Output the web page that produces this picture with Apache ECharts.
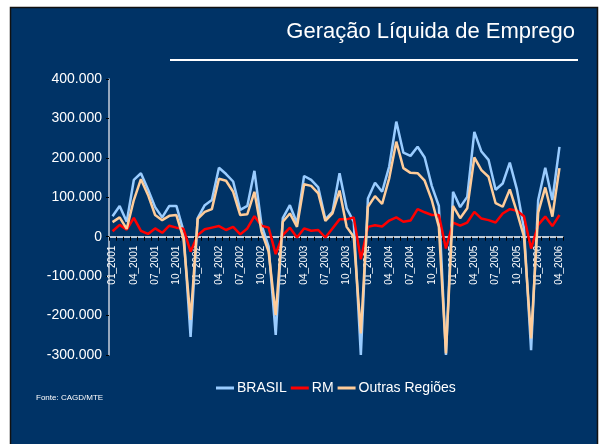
<!DOCTYPE html>
<html>
<head>
<meta charset="utf-8">
<script src="https://cdn.jsdelivr.net/npm/echarts@6/dist/echarts.min.js"></script>
<style>
  html, body { margin: 0; padding: 0; background: #fff; }
  #chart { width: 602px; height: 444px; }
</style>
</head>
<body>
<div id="chart"></div>
<script>
// monthly categories, 01_2001 .. 04_2006
const months = [
  '01_2001','02_2001','03_2001','04_2001','05_2001','06_2001','07_2001','08_2001','09_2001','10_2001','11_2001','12_2001',
  '01_2002','02_2002','03_2002','04_2002','05_2002','06_2002','07_2002','08_2002','09_2002','10_2002','11_2002','12_2002',
  '01_2003','02_2003','03_2003','04_2003','05_2003','06_2003','07_2003','08_2003','09_2003','10_2003','11_2003','12_2003',
  '01_2004','02_2004','03_2004','04_2004','05_2004','06_2004','07_2004','08_2004','09_2004','10_2004','11_2004','12_2004',
  '01_2005','02_2005','03_2005','04_2005','05_2005','06_2005','07_2005','08_2005','09_2005','10_2005','11_2005','12_2005',
  '01_2006','02_2006','03_2006','04_2006'
]

// net job creation, thousands
const brasil = [
  52, 78, 38, 144, 161, 120, 75, 49, 78, 78, 15, -254,
  47, 80, 93, 175, 159, 140, 68, 78, 167, 30, -25, -249,
  47, 80, 34, 154, 144, 125, 44, 63, 161, 72, 38, -300,
  97, 137, 114, 178, 292, 213, 205, 228, 201, 129, 78, -300,
  114, 75, 101, 266, 216, 195, 119, 135, 188, 120, 21, -288,
  93, 175, 93, 228
]
const rm = [
  14, 30, 18, 48, 15, 7, 21, 10, 28, 23, 20, -38,
  4, 19, 23, 27, 17, 25, 6, 21, 52, 28, 23, -44,
  4, 23, -2, 21, 15, 17, -2, 21, 44, 44, 49, -57,
  25, 29, 26, 41, 49, 38, 41, 70, 62, 55, 55, -30,
  36, 28, 36, 63, 46, 42, 36, 59, 70, 66, 52, -30,
  30, 51, 27, 55
]
const outras = [
  37, 49, 20, 93, 146, 106, 55, 42, 53, 55, -5, -211,
  45, 63, 70, 147, 142, 114, 55, 57, 114, 13, -38, -199,
  38, 59, 25, 133, 129, 110, 40, 59, 117, 25, 0, -245,
  76, 103, 83, 148, 241, 174, 162, 161, 142, 93, 25, -296,
  78, 47, 72, 201, 169, 152, 85, 76, 120, 63, 0, -258,
  61, 125, 51, 174
]

const yTicks = [-300, -200, -100, 0, 100, 200, 300, 400]

const font = 'Liberation Sans, Arial, sans-serif'

// grid geometry: the category axis sits on the zero line
const gridTop = 79
const gridBottom = 89
const plotH = 444 - gridTop - gridBottom
const yMin = yTicks[0]
const yMax = yTicks[yTicks.length - 1]
const zeroOffset = -plotH * (0 - yMin) / (yMax - yMin)

const chart = echarts.init(document.getElementById('chart'))

const option = {
  backgroundColor: '#fff',
  animation: false,
  title: {
    text: 'Geração Líquida de Emprego',
    right: 22,
    top: 16,
    textStyle: { color: '#fff', fontSize: 22, fontWeight: 'normal', fontFamily: font }
  },
  graphic: [
    {
      type: 'rect',
      z: -100,
      shape: { x: 10.5, y: 7.5, width: 587, height: 440 },
      style: { fill: '#003366', stroke: '#111', lineWidth: 1.5 }
    },
    {
      type: 'line',
      shape: { x1: 170, y1: 60, x2: 578, y2: 60 },
      style: { stroke: '#fff', lineWidth: 2 }
    },
    {
      type: 'text',
      left: 36,
      top: 394,
      style: { text: 'Fonte: CAGD/MTE', fill: '#fff', font: '8px ' + font }
    }
  ],
  legend: {
    left: 211,
    top: 376,
    icon: 'rect',
    itemWidth: 18,
    itemHeight: 3,
    itemGap: 4,
    textStyle: { color: '#fff', fontSize: 14, fontFamily: font, padding: [0, 0, 0, -2] },
    data: ['BRASIL', 'RM', 'Outras Regiões']
  },
  grid: { left: 109, right: 39, top: gridTop, bottom: gridBottom, containLabel: false },
  xAxis: {
    type: 'category',
    data: months,
    boundaryGap: true,
    position: 'bottom',
    offset: zeroOffset,
    axisLine: { onZero: false, lineStyle: { color: '#fff', width: 1.5 } },
    axisTick: { show: true, interval: 0, length: 4, lineStyle: { color: '#000' } },
    axisLabel: {
      interval: 2,
      rotate: 90,
      color: '#fff',
      fontSize: 10,
      fontFamily: font,
      margin: 9
    }
  },
  yAxis: {
    type: 'value',
    min: yMin,
    max: yMax,
    interval: 100,
    axisLine: { show: true, lineStyle: { color: '#c8d0dc', width: 1.5 } },
    axisTick: { show: true, length: 3, lineStyle: { color: '#000' } },
    splitLine: { show: false },
    axisLabel: {
      color: '#fff',
      fontSize: 14,
      fontFamily: font,
      margin: 7,
      formatter: v => (v === 0 ? '0' : v + '.000')
    }
  },
  series: [
    {
      name: 'BRASIL',
      type: 'line',
      data: brasil,
      symbol: 'none',
      color: '#99ccff',
      lineStyle: { width: 2.5, color: '#99ccff' }
    },
    {
      name: 'RM',
      type: 'line',
      data: rm,
      symbol: 'none',
      color: '#ff0000',
      lineStyle: { width: 2.5, color: '#ff0000' }
    },
    {
      name: 'Outras Regiões',
      type: 'line',
      data: outras,
      symbol: 'none',
      color: '#ffcc99',
      lineStyle: { width: 2.5, color: '#ffcc99' }
    }
  ]
}

chart.setOption(option)
</script>
</body>
</html>
